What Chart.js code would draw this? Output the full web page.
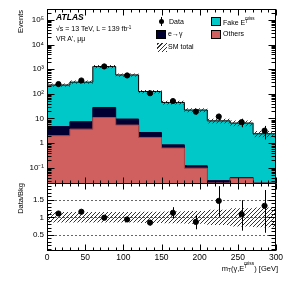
<!DOCTYPE html>
<html>
<head>
<meta charset="utf-8">
<script src="https://cdn.jsdelivr.net/npm/chart.js@4.4.0/dist/chart.umd.min.js"></script>
<style>
  html, body { margin: 0; padding: 0; background: #fff; }
  #wrap { position: relative; width: 292px; height: 281px; font-family: "Liberation Sans", Arial, sans-serif; color: #000; }
  #wrap canvas { position: absolute; left: 0; top: 0; }
  .t { position: absolute; white-space: nowrap; line-height: 1; }
  .sup { font-size: 65%; position: relative; top: -0.45em; }
  .sub { font-size: 65%; position: relative; top: 0.3em; }
  .ss { display: inline-block; position: relative; width: 10px; height: 1em; }
  .ss .up { position: absolute; left: 0; top: -0.3em; font-size: 65%; }
  .ss .dn { position: absolute; left: 0; top: 0.5em; font-size: 65%; }
  .box { position: absolute; border: 1px solid #000; box-sizing: border-box; }
  .rot { position: absolute; transform: rotate(-90deg); transform-origin: 0 0; text-align: right; white-space: nowrap; line-height: 8px; height: 8px; font-size: 7.5px; }
</style>
</head>
<body>
<div id="wrap">
  <canvas id="atlasChart" width="292" height="281"></canvas>

  <div class="t" style="left:56px; top:13px; font-size:8.5px; font-weight:bold; font-style:italic;">ATLAS</div>
  <div class="t" style="left:56px; top:25px; font-size:7px;">√s = 13 TeV, L = 139 fb<span class="sup">-1</span></div>
  <div class="t" style="left:56px; top:35px; font-size:7px;">VR A', μμ</div>

  <div style="position:absolute; left:159px; top:19px; width:5px; height:5px; border-radius:50%; background:#000;"></div>
  <div style="position:absolute; left:161px; top:17px; width:1px; height:9px; background:#000;"></div>
  <div class="t" style="left:169px; top:18px; font-size:7px;">Data</div>

  <div class="box" style="left:211px; top:17px; width:10px; height:9px; background:#00c8c8;"></div>
  <div class="t" style="left:223px; top:18px; font-size:7px;">Fake E<span class="ss"><span class="up">miss</span><span class="dn">T</span></span></div>

  <div class="box" style="left:156px; top:30px; width:10px; height:9px; background:#000033;"></div>
  <div class="t" style="left:168px; top:30px; font-size:7px;">e→γ</div>

  <div class="box" style="left:211px; top:30px; width:10px; height:9px; background:#d06060;"></div>
  <div class="t" style="left:223px; top:30px; font-size:7px;">Others</div>

  <div style="position:absolute; left:157px; top:43px; width:10px; height:9px; background:repeating-linear-gradient(-45deg, #333 0 1px, #fff 1px 3px);"></div>
  <div class="t" style="left:168px; top:43px; font-size:7px;">SM total</div>

  <div class="rot" style="left:17px; top:50px; width:40px;">Events</div>
  <div class="rot" style="left:17px; top:223px; width:40px;">Data/Bkg</div>

  <div class="t" style="right:14px; top:263px; font-size:7.5px;">m<span class="sub">T</span>(γ,E<span class="ss"><span class="up">miss</span><span class="dn">T</span></span>) [GeV]</div>
</div>

<script>
// bins in mT(gamma, MET) [GeV]
const binEdges = [0, 30, 60, 90, 120, 150, 180, 210, 240, 270, 300];

// stacked backgrounds (events per bin)
const fakeMet = [225, 293, 1260, 580, 122, 44, 22, 8, 6.5, 2.4];
const eToGamma = [2.7, 3.7, 17, 4.1, 1.0, 0.22, 0.024, 0.03, 0.003, 0];
const others = [2.0, 3.7, 11, 5.4, 1.7, 0.63, 0.096, 0, 0.037, 0];
const sysUnc = [0.15, 0.15, 0.15, 0.15, 0.16, 0.17, 0.18, 0.22, 0.26, 0.28];

// data
const dataEvents = [250, 350, 1300, 560, 106, 51, 19, 12, 7.1, 3.2];
const dataErr = [16, 19, 36, 24, 10, 7, 4.4, 3.5, 2.7, 1.8];

// ratio panel
const ratio = [1.11, 1.16, 0.99, 0.94, 0.85, 1.13, 0.87, 1.47, 1.09, 1.33];
const ratioErrUp = [0.07, 0.06, 0.03, 0.04, 0.08, 0.16, 0.2, 0.42, 0.4, 0.45];
const ratioErrDown = [0.07, 0.06, 0.03, 0.04, 0.08, 0.16, 0.21, 0.45, 0.47, 0.77];

// tick labels
const xTickValues = [0, 50, 100, 150, 200, 250, 300];
const logTickValues = [0.1, 1, 10, 100, 1000, 10000, 100000];
const logTickLabels = ["10⁻¹", "1", "10", "10²", "10³", "10⁴", "10⁵"];
const ratioTickValues = [0.5, 1, 1.5];
const ratioTickLabels = ["0.5", "1", "1.5"];

const yMin = 0.024, yMax = 2.8e5;
const rMin = 0.04, rMax = 1.98;

const centers = binEdges.slice(0, -1).map(function (e, i) { return (e + binEdges[i + 1]) / 2; });
const lvlEgam = others.map(function (v, i) { return v + eToGamma[i]; });
const total = lvlEgam.map(function (v, i) { return v + fakeMet[i]; });

// one point per bin edge, value held until the next edge (stepped: 'before')
function steps(vals, floor) {
  return binEdges.map(function (e, i) {
    return { x: e, y: Math.max(vals[Math.min(i, vals.length - 1)], floor) };
  });
}

// hatch pattern "////"
function makeHatch() {
  var s = 4;
  var tile = document.createElement("canvas");
  tile.width = s; tile.height = s;
  var c = tile.getContext("2d");
  c.strokeStyle = "#333";
  c.lineWidth = 1;
  c.beginPath();
  c.moveTo(0, s); c.lineTo(s, 0);
  c.moveTo(-1, 1); c.lineTo(1, -1);
  c.moveTo(s - 1, s + 1); c.lineTo(s + 1, s - 1);
  c.stroke();
  return c.createPattern(tile, "repeat");
}
const hatch = makeHatch();

const tickFont = { family: "'Liberation Sans', Arial, sans-serif", size: 8 };

function line(ctx, x1, y1, x2, y2) {
  ctx.beginPath();
  ctx.moveTo(x1, y1);
  ctx.lineTo(x2, y2);
  ctx.stroke();
}

const atlasStyle = {
  id: "atlasStyle",
  beforeDatasetsDraw(chart) {
    var ctx = chart.ctx, x = chart.scales.x, r = chart.scales.yRatio;
    ctx.save();
    ctx.strokeStyle = "#666";
    ctx.lineWidth = 1;
    ctx.setLineDash([2, 2]);
    ratioTickValues.forEach(function (v) {
      var py = Math.round(r.getPixelForValue(v)) + 0.5;
      line(ctx, x.left, py, x.right, py);
    });
    ctx.restore();
  },
  afterDatasetsDraw(chart) {
    var ctx = chart.ctx, x = chart.scales.x, y = chart.scales.y, r = chart.scales.yRatio;
    ctx.save();
    ctx.strokeStyle = "#000";
    ctx.lineWidth = 1;

    // error bars
    centers.forEach(function (c, i) {
      var px = Math.round(x.getPixelForValue(c)) + 0.5;
      var lo = Math.max(dataEvents[i] - dataErr[i], yMin);
      line(ctx, px, y.getPixelForValue(dataEvents[i] + dataErr[i]), px, y.getPixelForValue(lo));
      line(ctx, px, r.getPixelForValue(Math.min(ratio[i] + ratioErrUp[i], rMax)), px,
        r.getPixelForValue(Math.max(ratio[i] - ratioErrDown[i], rMin)));
    });

    // frames
    var L = Math.round(x.left) + 0.5, R = Math.round(x.right) - 0.5;
    var T = Math.round(y.top) + 0.5, M = Math.round(y.bottom) + 0.5, B = Math.round(r.bottom) - 0.5;
    ctx.strokeRect(L, T, R - L, M - T);
    ctx.strokeRect(L, M, R - L, B - M);

    // x ticks (inside, both panels)
    for (var v = 0; v <= 300; v += 10) {
      var px = Math.round(x.getPixelForValue(v)) + 0.5;
      var len = v % 50 === 0 ? 6 : 3;
      line(ctx, px, T, px, T + len);
      line(ctx, px, M, px, M - len);
      line(ctx, px, M, px, M + len);
      line(ctx, px, B, px, B - len);
    }

    // log y ticks
    for (var n = -2; n <= 5; n++) {
      for (var k = 1; k <= 9; k++) {
        var val = k * Math.pow(10, n);
        if (val < yMin || val > yMax) continue;
        var py = Math.round(y.getPixelForValue(val)) + 0.5;
        var l2 = k === 1 ? 7 : 4;
        line(ctx, L, py, L + l2, py);
        line(ctx, R, py, R - l2, py);
      }
    }

    // ratio y ticks
    for (var j = 1; j <= 19; j++) {
      var rv = j / 10;
      var ry = Math.round(r.getPixelForValue(rv)) + 0.5;
      var l3 = j % 5 === 0 ? 7 : 4;
      line(ctx, L, ry, L + l3, ry);
      line(ctx, R, ry, R - l3, ry);
    }
    ctx.restore();
  }
};

new Chart(document.getElementById("atlasChart").getContext("2d"), {
  type: "line",
  data: {
    datasets: [
      {
        label: "Data",
        data: centers.map(function (c, i) { return { x: c, y: dataEvents[i] }; }),
        xAxisID: "x", yAxisID: "y",
        showLine: false,
        pointRadius: 2.6,
        pointBackgroundColor: "#000",
        pointBorderColor: "#000",
        order: 0,
      },
      {
        label: "SM total",
        data: steps(total.map(function (v, i) { return v * (1 + sysUnc[i]); }), yMin),
        xAxisID: "x", yAxisID: "y",
        stepped: "before", pointRadius: 0, borderWidth: 0, borderColor: "rgba(0,0,0,0)",
        backgroundColor: hatch, fill: "+1",
        order: 2,
      },
      {
        label: "SM total low",
        data: steps(total.map(function (v, i) { return v * (1 - sysUnc[i]); }), yMin),
        xAxisID: "x", yAxisID: "y",
        stepped: "before", pointRadius: 0, borderWidth: 0, borderColor: "rgba(0,0,0,0)",
        fill: false,
        order: 2,
      },
      {
        label: "Others",
        data: steps(others, yMin),
        xAxisID: "x", yAxisID: "y",
        stepped: "before", pointRadius: 0, borderWidth: 1,
        borderColor: "#b04848", backgroundColor: "#d06060", fill: "start",
        order: 3,
      },
      {
        label: "e→γ",
        data: steps(lvlEgam, yMin),
        xAxisID: "x", yAxisID: "y",
        stepped: "before", pointRadius: 0, borderWidth: 1,
        borderColor: "#000033", backgroundColor: "#000033", fill: "start",
        order: 4,
      },
      {
        label: "Fake MET",
        data: steps(total, yMin),
        xAxisID: "x", yAxisID: "y",
        stepped: "before", pointRadius: 0, borderWidth: 1,
        borderColor: "#000", backgroundColor: "#00c8c8", fill: "start",
        order: 5,
      },
      {
        label: "Ratio unc",
        data: steps(sysUnc.map(function (u) { return 1 + u; }), rMin),
        xAxisID: "x", yAxisID: "yRatio",
        stepped: "before", pointRadius: 0, borderWidth: 0, borderColor: "rgba(0,0,0,0)",
        backgroundColor: hatch, fill: "+1",
        order: 2,
      },
      {
        label: "Ratio unc low",
        data: steps(sysUnc.map(function (u) { return 1 - u; }), rMin),
        xAxisID: "x", yAxisID: "yRatio",
        stepped: "before", pointRadius: 0, borderWidth: 0, borderColor: "rgba(0,0,0,0)",
        fill: false,
        order: 2,
      },
      {
        label: "Data/Bkg",
        data: centers.map(function (c, i) { return { x: c, y: ratio[i] }; }),
        xAxisID: "x", yAxisID: "yRatio",
        showLine: false,
        pointRadius: 2.6,
        pointBackgroundColor: "#000",
        pointBorderColor: "#000",
        order: 0,
      },
    ],
  },
  options: {
    responsive: false,
    animation: false,
    devicePixelRatio: 1,
    events: [],
    layout: { padding: { left: 0, right: 16, top: 9, bottom: 0 } },
    plugins: { legend: { display: false }, tooltip: { enabled: false } },
    scales: {
      x: {
        type: "linear", position: "bottom", min: 0, max: 300,
        grid: { display: false, drawTicks: false },
        border: { display: false },
        afterBuildTicks: function (s) { s.ticks = xTickValues.map(function (v) { return { value: v }; }); },
        afterFit: function (s) { s.height = 30; },
        ticks: { autoSkip: false, maxRotation: 0, padding: 2, color: "#000", font: { family: tickFont.family, size: 8.5 } },
      },
      yRatio: {
        type: "linear", axis: "y", position: "left", stack: "panels", stackWeight: 68,
        min: rMin, max: rMax,
        grid: { display: false, drawTicks: false },
        border: { display: false },
        afterBuildTicks: function (s) { s.ticks = ratioTickValues.map(function (v) { return { value: v }; }); },
        afterFit: function (s) { s.width = 47; },
        ticks: {
          autoSkip: false, padding: 3, color: "#000", font: tickFont,
          callback: function (v) { var k = ratioTickValues.indexOf(v); return k < 0 ? "" : ratioTickLabels[k]; },
        },
      },
      y: {
        type: "logarithmic", axis: "y", position: "left", stack: "panels", stackWeight: 174,
        min: yMin, max: yMax,
        grid: { display: false, drawTicks: false },
        border: { display: false },
        afterBuildTicks: function (s) { s.ticks = logTickValues.map(function (v) { return { value: v }; }); },
        afterFit: function (s) { s.width = 47; },
        ticks: {
          autoSkip: false, padding: 3, color: "#000", font: tickFont,
          callback: function (v) { var k = logTickValues.indexOf(v); return k < 0 ? "" : logTickLabels[k]; },
        },
      },
    },
  },
  plugins: [atlasStyle],
});
</script>
</body>
</html>
